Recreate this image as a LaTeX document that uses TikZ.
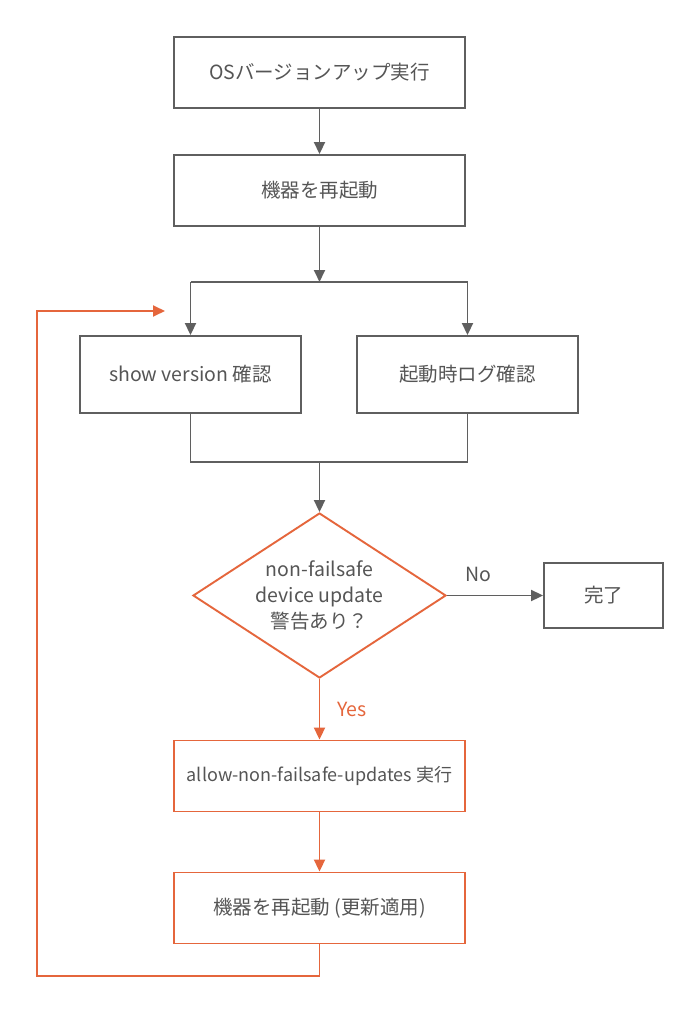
\documentclass[tikz,border=0pt]{standalone}
\usepackage{fontspec}
\setmainfont{Noto Sans CJK JP}
\usetikzlibrary{arrows.meta,shapes.geometric}
\definecolor{lgray}{HTML}{5F5F5F}
\definecolor{txtgray}{HTML}{555555}
\definecolor{orng}{HTML}{E5663C}
\tikzset{
  box/.style={draw=lgray,line width=1.9pt,minimum width=291pt,minimum height=71pt,inner sep=0pt,
    font=\fontsize{19.5}{26}\selectfont,text=txtgray,fill=white},
  obox/.style={box,draw=orng},
  conn/.style={draw=lgray,line width=1.9pt},
  oconn/.style={draw=orng,line width=1.9pt},
  tip/.style={-{Triangle[length=12pt,width=11pt]}},
  lbl/.style={font=\fontsize{19.5}{22}\selectfont,inner sep=0pt}
}
\begin{document}
\begin{tikzpicture}[x=1pt,y=-1pt]
\useasboundingbox (0,0) rectangle (683,1024);
\fill[white] (0,0) rectangle (683,1024);
\node[box] (b1) at (319.5,72.5) {OSバージョンアップ実行};
\node[box] (b2) at (319.5,190.5) {機器を再起動};
\node[box,minimum width=221pt,minimum height=77pt] (b3) at (190.5,374.5) {show version 確認};
\node[box,minimum width=221pt,minimum height=77pt] (b4) at (467.5,374.5) {起動時ログ確認};
\node[diamond,draw=orng,line width=1.9pt,aspect=1.53,minimum width=253pt,minimum height=165pt,inner sep=0pt,
  font=\fontsize{19.5}{26}\selectfont,text=txtgray,align=center,fill=white] (dec) at (319.5,595.5)
  {non-failsafe\\device update\\警告あり？};
\node[box,minimum width=119pt,minimum height=65pt] (done) at (603.5,595.5) {完了};
\node[obox,font=\fontsize{18}{24}\selectfont] (b5) at (319.5,776) {allow-non-failsafe-updates 実行};
\node[obox] (b6) at (319.5,908) {機器を再起動 (更新適用)};

\coordinate (split) at (319.5,282);
\coordinate (splitL) at (190.5,282);
\coordinate (splitR) at (467.5,282);
\coordinate (merge) at (319.5,462);
\coordinate (mergeL) at (190.5,462);
\coordinate (mergeR) at (467.5,462);
\coordinate (loopA) at (37,976);
\coordinate (loopB) at (37,311);
\coordinate (loopEnd) at (165,311);

\draw[conn,tip] (b1.south) -- (b2.north);
\draw[conn,tip] (b2.south) -- (split);
\draw[conn] (splitL) -- (splitR);
\draw[conn,tip] (splitL) -- (b3.north);
\draw[conn,tip] (splitR) -- (b4.north);
\draw[conn] (b3.south) -- (mergeL) -- (mergeR) -- (b4.south);
\draw[conn,tip] (merge) -- (dec.north);
\draw[conn,tip] (dec.east) -- (done.west);
\draw[oconn,tip] (dec.south) -- (b5.north);
\draw[oconn,tip] (b5.south) -- (b6.north);
\draw[oconn,tip] (b6.south) |- (loopA) -- (loopB) -- (loopEnd);

\node[lbl,text=txtgray] (no) at (478,574) {No};
\node[lbl,text=orng] (yes) at (352,709) {Yes};
\end{tikzpicture}
\end{document}
